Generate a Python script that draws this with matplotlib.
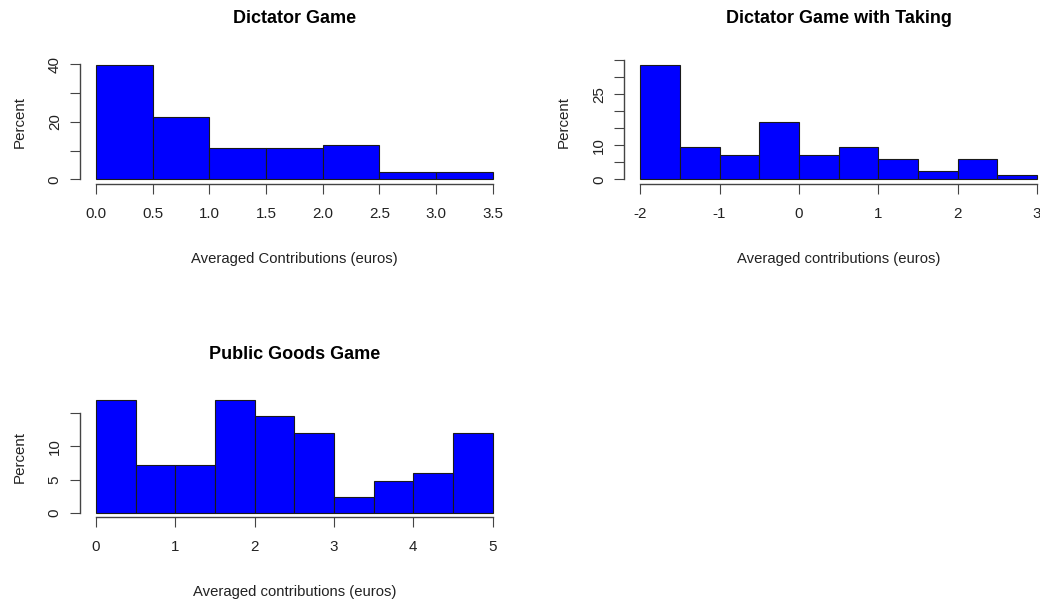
import numpy as np
import matplotlib
matplotlib.use("Agg")
import matplotlib.pyplot as plt

plt.rcParams["font.family"] = ["Liberation Sans", "DejaVu Sans"]

# ---- histogram data (percent of subjects per bin) ----
dg_edges = [0.0, 0.5, 1.0, 1.5, 2.0, 2.5, 3.0, 3.5]
dg_pct = [39.8, 21.7, 10.8, 10.8, 12.0, 2.4, 2.4]
dg_xticks = [0.0, 0.5, 1.0, 1.5, 2.0, 2.5, 3.0, 3.5]
dg_xlabels = ["0.0", "0.5", "1.0", "1.5", "2.0", "2.5", "3.0", "3.5"]
dg_yticks = [0, 10, 20, 30, 40]
dg_ylabels = ["0", "", "20", "", "40"]

dgt_edges = [-2.0, -1.5, -1.0, -0.5, 0.0, 0.5, 1.0, 1.5, 2.0, 2.5, 3.0]
dgt_pct = [33.7, 9.6, 7.2, 16.9, 7.2, 9.6, 6.0, 2.4, 6.0, 1.2]
dgt_xticks = [-2, -1, 0, 1, 2, 3]
dgt_xlabels = ["-2", "-1", "0", "1", "2", "3"]
dgt_yticks = [0, 5, 10, 15, 20, 25, 30, 35]
dgt_ylabels = ["0", "", "10", "", "", "25", "", ""]

pg_edges = [0.0, 0.5, 1.0, 1.5, 2.0, 2.5, 3.0, 3.5, 4.0, 4.5, 5.0]
pg_pct = [16.9, 7.2, 7.2, 16.9, 14.5, 12.0, 2.4, 4.8, 6.0, 12.0]
pg_xticks = [0, 1, 2, 3, 4, 5]
pg_xlabels = ["0", "1", "2", "3", "4", "5"]
pg_yticks = [0, 5, 10, 15]
pg_ylabels = ["0", "5", "10", ""]

W, H = 1040, 606
fig = plt.figure(figsize=(W / 100, H / 100), dpi=100)
fig.patch.set_facecolor("white")


def panel(left, top, right, bottom):
    # box given in pixels from the top-left corner
    return fig.add_axes([left / W, 1 - bottom / H, (right - left) / W, (bottom - top) / H])


def r_hist(ax, edges, pct, xticks, xlabels, yticks, ylabels, title, xlabel):
    edges = np.asarray(edges)
    ax.bar(edges[:-1], pct, width=np.diff(edges), align="edge",
           color="#0000FF", edgecolor="#1a1a1a", linewidth=0.8)
    # R style 4% padding around the data range
    xr = edges[-1] - edges[0]
    ax.set_xlim(edges[0] - 0.04 * xr, edges[-1] + 0.04 * xr)
    ym = max(pct)
    ax.set_ylim(-0.04 * ym, 1.04 * ym)

    for s in ["top", "right"]:
        ax.spines[s].set_visible(False)
    for s in ["left", "bottom"]:
        ax.spines[s].set_color("#444444")
        ax.spines[s].set_linewidth(1.0)
    ax.spines["bottom"].set_bounds(xticks[0], xticks[-1])
    ax.spines["left"].set_bounds(yticks[0], yticks[-1])

    ax.set_xticks(xticks)
    ax.set_xticklabels(xlabels)
    ax.set_yticks(yticks)
    ax.set_yticklabels(ylabels, rotation=90, va="center")
    ax.tick_params(axis="both", length=7.2, width=0.8, color="#444444",
                   labelsize=10.9, labelcolor="#222222")
    ax.tick_params(axis="x", pad=9.0)
    ax.tick_params(axis="y", pad=6.0)

    ax.set_title(title, fontsize=13, fontweight="bold", pad=26.5)
    ax.set_xlabel(xlabel, fontsize=10.7, color="#222222", labelpad=22.5)
    ax.set_ylabel("Percent", fontsize=10.9, color="#222222", labelpad=15)


ax1 = panel(80.1, 60.1, 508.5, 184.0)
r_hist(ax1, dg_edges, dg_pct, dg_xticks, dg_xlabels, dg_yticks, dg_ylabels,
       "Dictator Game", "Averaged Contributions (euros)")

ax2 = panel(624.3, 60.1, 1052.7, 184.0)
r_hist(ax2, dgt_edges, dgt_pct, dgt_xticks, dgt_xlabels, dgt_yticks, dgt_ylabels,
       "Dictator Game with Taking", "Averaged contributions (euros)")

ax3 = panel(80.1, 395.8, 508.5, 517.3)
r_hist(ax3, pg_edges, pg_pct, pg_xticks, pg_xlabels, pg_yticks, pg_ylabels,
       "Public Goods Game", "Averaged contributions (euros)")

fig.savefig("out.png", dpi=100, facecolor="white")
